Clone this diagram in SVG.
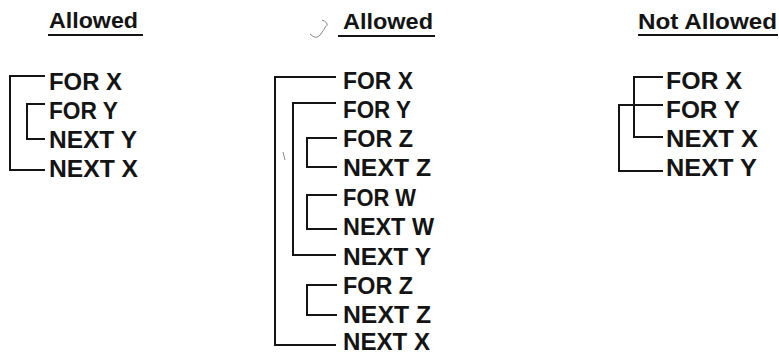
<svg xmlns="http://www.w3.org/2000/svg" width="779" height="354" viewBox="0 0 779 354">
<style>
.t{font-family:"Liberation Sans",Arial,sans-serif;font-size:23.5px;font-weight:bold;fill:#141414}
.h{font-family:"Liberation Sans",Arial,sans-serif;font-size:22px;font-weight:bold;fill:#141414}
.u{stroke:#141414;stroke-width:2;fill:none}
.b{stroke:#141414;stroke-width:2;fill:none;stroke-linejoin:miter}
.n{stroke:#888;stroke-width:1;fill:none}
</style>
<rect width="779" height="354" fill="#fff"/>
<g id="titles">
<g id="title-left"><text class="h" x="49" y="28" textLength="89" lengthAdjust="spacingAndGlyphs">Allowed</text><line class="u" x1="48" y1="35" x2="143" y2="35"/></g>
<g id="title-mid"><text class="h" x="343" y="29" textLength="90" lengthAdjust="spacingAndGlyphs">Allowed</text><line class="u" x1="338" y1="36" x2="435" y2="36"/></g>
<g id="title-right"><text class="h" x="638" y="29" textLength="139" lengthAdjust="spacingAndGlyphs">Not Allowed</text><line class="u" x1="638" y1="35" x2="778" y2="35"/></g>
</g>
<g id="left">
<g id="l-forx"><text class="t" x="49" y="90" textLength="73" lengthAdjust="spacingAndGlyphs">FOR X</text></g>
<g id="l-fory"><text class="t" x="49" y="119" textLength="69" lengthAdjust="spacingAndGlyphs">FOR Y</text></g>
<g id="l-nexty"><text class="t" x="49" y="148" textLength="88" lengthAdjust="spacingAndGlyphs">NEXT Y</text></g>
<g id="l-nextx"><text class="t" x="49" y="177" textLength="89" lengthAdjust="spacingAndGlyphs">NEXT X</text></g>
</g>
<g id="mid">
<g id="m-forx"><text class="t" x="343" y="89" textLength="70" lengthAdjust="spacingAndGlyphs">FOR X</text></g>
<g id="m-fory"><text class="t" x="343" y="118" textLength="68" lengthAdjust="spacingAndGlyphs">FOR Y</text></g>
<g id="m-forz1"><text class="t" x="343" y="147" textLength="70" lengthAdjust="spacingAndGlyphs">FOR Z</text></g>
<g id="m-nextz1"><text class="t" x="343" y="176" textLength="88" lengthAdjust="spacingAndGlyphs">NEXT Z</text></g>
<g id="m-forw"><text class="t" x="343" y="206" textLength="73" lengthAdjust="spacingAndGlyphs">FOR W</text></g>
<g id="m-nextw"><text class="t" x="343" y="235" textLength="91" lengthAdjust="spacingAndGlyphs">NEXT W</text></g>
<g id="m-nexty"><text class="t" x="343" y="265" textLength="88" lengthAdjust="spacingAndGlyphs">NEXT Y</text></g>
<g id="m-forz2"><text class="t" x="343" y="294" textLength="70" lengthAdjust="spacingAndGlyphs">FOR Z</text></g>
<g id="m-nextz2"><text class="t" x="343" y="323" textLength="88" lengthAdjust="spacingAndGlyphs">NEXT Z</text></g>
<g id="m-nextx"><text class="t" x="343" y="350" textLength="87" lengthAdjust="spacingAndGlyphs">NEXT X</text></g>
</g>
<g id="right">
<g id="r-forx"><text class="t" x="666" y="89" textLength="76" lengthAdjust="spacingAndGlyphs">FOR X</text></g>
<g id="r-fory"><text class="t" x="666" y="118" textLength="74" lengthAdjust="spacingAndGlyphs">FOR Y</text></g>
<g id="r-nextx"><text class="t" x="666" y="147" textLength="92" lengthAdjust="spacingAndGlyphs">NEXT X</text></g>
<g id="r-nexty"><text class="t" x="666" y="176" textLength="91" lengthAdjust="spacingAndGlyphs">NEXT Y</text></g>
</g>
<g id="connectors">
<path class="b" d="M45,76 H10 V170 H45"/>
<path class="b" d="M45,104 H27 V139 H45"/>
<path class="b" d="M336,77 H275 V345 H336"/>
<path class="b" d="M336,103 H293 V255 H336"/>
<path class="b" d="M337,138 H307 V167 H337"/>
<path class="b" d="M337,195 H307 V229 H337"/>
<path class="b" d="M337,285 H307 V315 H337"/>
<path class="b" d="M663,77 H634 V137 H663"/>
<path class="b" d="M663,105 H619 V171 H663"/>
</g>
<g id="marks">
<path class="n" d="M310,34 Q316,40 320,35 Q324,30 326,26"/>
<path class="n" d="M322,20 Q328,22 327,26"/>
<path class="n" d="M283,152 L285,160"/>
</g>
</svg>
